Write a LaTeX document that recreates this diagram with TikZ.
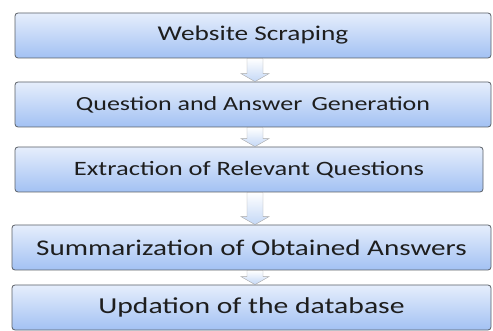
\documentclass[tikz,border=0pt]{standalone}
\usepackage{fontspec}
\setmainfont[FakeStretch=1.3]{Carlito}
\usepackage{tikz}
\usetikzlibrary{calc}
\definecolor{boxtop}{HTML}{E6EEFC}
\definecolor{boxbot}{HTML}{A2C1F3}
\definecolor{boxline}{HTML}{5A5F66}
\definecolor{arrtop}{HTML}{FFFFFF}
\definecolor{arrbot}{HTML}{C4D8F6}
\definecolor{txt}{HTML}{1E1E1E}

\begin{document}
\begin{tikzpicture} [x=1pt,y=1pt,
	stage/.style={
		rectangle,draw=boxline,line width=0.8pt,
		top color=boxtop,bottom color=boxbot,
		rounded corners=3pt,minimum height=45pt,
		text=txt,font=\fontsize{#1}{26}\selectfont},
	stage/.default=22,
	flow/.style={
		draw=black!35,line width=0.4pt,
		top color=arrtop,bottom color=arrbot}]
\useasboundingbox (0,0) rectangle (493,-331);
\coordinate (axis) at (255,0);
\node[stage=21,minimum width=476pt]   (scraping)   at (253,-35.5)   {Website Scraping};
\node[stage=20,minimum width=476pt]   (generation) at (253,-104.5)  {Question and Answer\, Generation};
\node[stage=20.4,minimum width=468pt] (extraction) at (249,-169.5)  {Extraction of Relevant Questions};
\node[stage=22.4,minimum width=479pt] (summary)    at (251.5,-247.5) {Summarization of Obtained Answers};
\node[stage=22.8,minimum width=479pt] (update)     at (251.5,-307.5) {Updation of the database};
\foreach \a/\b in {scraping/generation,generation/extraction,extraction/summary,summary/update}
	\path[flow] ($(axis |- \a.south)+(-8,0)$) -- ($(axis |- \b.north)+(-8,8)$)
		-- ($(axis |- \b.north)+(-14,8)$) -- (axis |- \b.north)
		-- ($(axis |- \b.north)+(14,8)$) -- ($(axis |- \b.north)+(8,8)$)
		-- ($(axis |- \a.south)+(8,0)$) -- cycle;
\end{tikzpicture}
\end{document}
